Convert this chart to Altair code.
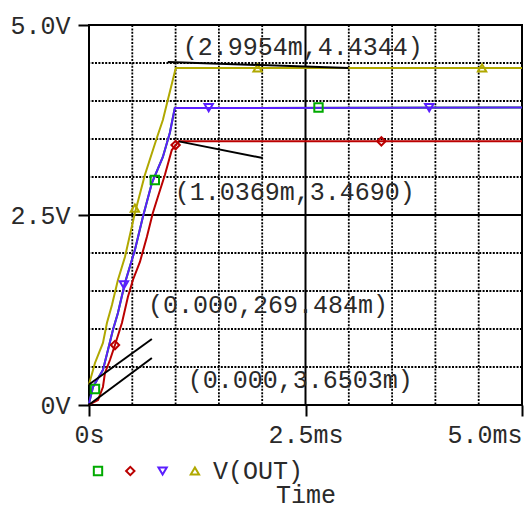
import altair as alt
import pandas as pd

# ---- V(OUT) transient traces (time in ms, voltage in V) ----
t_green = [0.0, 0.046, 0.161, 0.219, 0.276, 0.334, 0.415, 0.530, 0.622, 0.726, 0.853, 0.933, 0.991, 5.0]
v_green = [0.02, 0.237, 0.461, 0.724, 0.987, 1.21, 1.605, 2.04, 2.474, 2.921, 3.263, 3.579, 3.908, 3.914]

t_red = [0.0, 0.104, 0.161, 0.184, 0.242, 0.300, 0.380, 0.449, 0.507, 0.588, 0.668, 0.737, 0.795, 0.876, 0.956, 1.0369, 5.0]
v_red = [0.0036503, 0.066, 0.237, 0.421, 0.592, 0.789, 1.079, 1.421, 1.645, 1.882, 2.211, 2.526, 2.737, 3.026, 3.355, 3.469, 3.469]

t_blue = [0.0, 0.046, 0.161, 0.219, 0.276, 0.334, 0.415, 0.530, 0.622, 0.726, 0.853, 0.933, 0.991, 5.0]
v_blue = [0.02, 0.237, 0.461, 0.724, 0.987, 1.21, 1.605, 2.04, 2.474, 2.921, 3.263, 3.579, 3.908, 3.914]

t_yellow = [0.0, 0.069, 0.161, 0.207, 0.265, 0.334, 0.415, 0.530, 0.645, 0.783, 0.853, 0.910, 1.002, 5.0]
v_yellow = [0.269484, 0.553, 0.816, 1.079, 1.316, 1.645, 1.947, 2.526, 3.026, 3.513, 3.75, 4.013, 4.4344, 4.4344]

# marker symbols placed along each trace
mk_green_t = [0.069, 0.760, 2.65]
mk_green_v = [0.21, 2.96, 3.914]
mk_red_t = [0.300, 1.0, 3.376]
mk_red_v = [0.789, 3.42, 3.469]
mk_blue_t = [0.403, 1.382, 3.929]
mk_blue_v = [1.58, 3.914, 3.914]
mk_yellow_t = [0.530, 1.947, 4.539]
mk_yellow_v = [2.59, 4.4344, 4.4344]

series_names = ["s1", "s2", "s3", "s4"]
series_colors = ["#00aa00", "#bb0000", "#5a1eff", "#b0a800"]
series_shapes = ["square", "diamond", "triangle-down", "triangle-up"]

# cursor readouts
ann_t = [2.9954, 1.0369, 0.0, 0.0]
ann_v = [4.4344, 3.4690, 0.269484, 0.0036503]
ann_text = ["(2.9954m,4.4344)", "(1.0369m,3.4690)", "(0.000,269.484m)", "(0.000,3.6503m)"]
# where each readout label sits and where its leader line starts
lab_t = [1.083, 0.991, 0.68, 1.14]
lab_v = [4.711, 2.80, 1.316, 0.329]
lead_t = [0.910, 2.005, 0.726, 0.726]
lead_v = [4.513, 3.25, 0.868, 0.618]

x_ticks = [0.0, 2.5, 5.0]
x_tick_labels = ["0s", "2.5ms", "5.0ms"]
y_ticks = [0.0, 2.5, 5.0]
y_tick_labels = ["0V", "2.5V", "5.0V"]
grid_vals = [0.5, 1.0, 1.5, 2.0, 3.0, 3.5, 4.0, 4.5]
major_vals = [2.5]

FONT = "Liberation Mono"
FS = 25
TXT = "#2a2a2a"

xs = alt.Scale(domain=[0, 5], nice=False, zero=False)
ys = alt.Scale(domain=[0, 5], nice=False, zero=False)


def label_expr(vals, labels):
    expr = "''"
    for v, l in zip(reversed(vals), reversed(labels)):
        expr = f"datum.value == {v} ? '{l}' : ({expr})"
    return expr


x_axis = alt.Axis(values=x_ticks, labelExpr=label_expr(x_ticks, x_tick_labels), grid=False,
                  domain=False, tickSize=11, tickWidth=2, tickColor="black",
                  labelFont=FONT, labelFontSize=FS, labelColor=TXT, labelPadding=6,
                  labelAlign=alt.ExprRef(expr="datum.value >= 5 ? 'right' : 'center'"),
                  labelFlush=False,
                  title="Time", titleFont=FONT, titleFontSize=FS, titleFontWeight="normal",
                  titleColor=TXT, titlePadding=35)
y_axis = alt.Axis(values=y_ticks, labelExpr=label_expr(y_ticks, y_tick_labels), grid=False,
                  domain=False, tickSize=11, tickWidth=2, tickColor="black",
                  labelFont=FONT, labelFontSize=FS, labelColor=TXT, labelPadding=8,
                  labelFlush=False, title=None)

grid_df = pd.DataFrame({"g": grid_vals})
major_df = pd.DataFrame({"g": major_vals})

vgrid = alt.Chart(grid_df).mark_rule(color="black", strokeWidth=1.8, strokeDash=[2, 1.4]).encode(
    x=alt.X("g:Q", scale=xs, axis=x_axis))
hgrid = alt.Chart(grid_df).mark_rule(color="black", strokeWidth=1.8, strokeDash=[2, 1.4]).encode(
    y=alt.Y("g:Q", scale=ys, axis=y_axis))
vmajor = alt.Chart(major_df).mark_rule(color="black", strokeWidth=2).encode(x=alt.X("g:Q", scale=xs))
hmajor = alt.Chart(major_df).mark_rule(color="black", strokeWidth=2).encode(y=alt.Y("g:Q", scale=ys))

traces = [(t_green, v_green), (t_red, v_red), (t_blue, v_blue), (t_yellow, v_yellow)]
markers = [(mk_green_t, mk_green_v), (mk_red_t, mk_red_v), (mk_blue_t, mk_blue_v), (mk_yellow_t, mk_yellow_v)]

line_layers = []
for (tt, vv), c in zip(traces, series_colors):
    df = pd.DataFrame({"t": tt, "v": vv})
    line_layers.append(alt.Chart(df).mark_line(color=c, strokeWidth=2).encode(
        x=alt.X("t:Q", scale=xs), y=alt.Y("v:Q", scale=ys)))

marker_layers = []
for (tt, vv), c, s in zip(markers, series_colors, series_shapes):
    df = pd.DataFrame({"t": tt, "v": vv})
    marker_layers.append(alt.Chart(df).mark_point(color=c, shape=s, filled=False, strokeWidth=2, size=70, opacity=1).encode(
        x=alt.X("t:Q", scale=xs), y=alt.Y("v:Q", scale=ys)))

ann_df = pd.DataFrame({"t": ann_t, "v": ann_v, "lt": lead_t, "lv": lead_v,
                       "xt": lab_t, "yv": lab_v, "label": ann_text})
leaders = alt.Chart(ann_df).mark_rule(color="black", strokeWidth=2).encode(
    x=alt.X("t:Q", scale=xs), y=alt.Y("v:Q", scale=ys), x2="lt:Q", y2="lv:Q")
ann_labels = alt.Chart(ann_df).mark_text(font=FONT, fontSize=FS, color=TXT, align="left", baseline="middle").encode(
    x=alt.X("xt:Q", scale=xs), y=alt.Y("yv:Q", scale=ys), text="label:N")

# legend row under the axis
leg_df = pd.DataFrame({"series": series_names, "idx": list(range(4))})
leg_marks = alt.Chart(leg_df).mark_point(filled=False, strokeWidth=2, size=70, opacity=1).transform_calculate(
    lx="9 + 32.3 * datum.idx").encode(
    x=alt.X("lx:Q", scale=None), y=alt.value(446),
    color=alt.Color("series:N", scale=alt.Scale(domain=series_names, range=series_colors), legend=None),
    shape=alt.Shape("series:N", scale=alt.Scale(domain=series_names, range=series_shapes), legend=None))
leg_text = alt.Chart(pd.DataFrame({"label": ["V(OUT)"]})).mark_text(
    font=FONT, fontSize=FS, color=TXT, align="left", baseline="middle").encode(
    x=alt.value(124), y=alt.value(446), text="label:N")

chart = alt.layer(
    vgrid, hgrid, vmajor, hmajor, *line_layers, *marker_layers, leaders, ann_labels, leg_marks, leg_text
).properties(
    width=433, height=380,
    autosize=alt.AutoSizeParams(type="none"),
    padding={"left": 89, "top": 25, "right": 2, "bottom": 105},
    background="white",
).configure_view(stroke="black", strokeWidth=2)

chart.save("out.html", embed_options={"renderer": "svg", "actions": False})
